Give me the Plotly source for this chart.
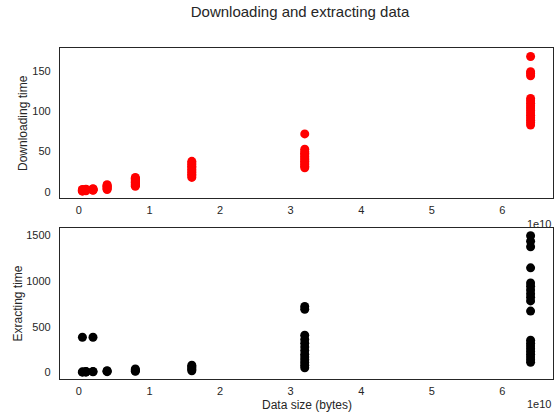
import plotly.graph_objects as go

# ---- data ----
sizes = [5e8, 1e9, 2e9, 4e9, 8e9, 1.6e10, 3.2e10, 6.4e10]

download_times = [
    [1, 1.5, 2, 2.5, 3],
    [1.5, 2, 2.5, 3, 3.5],
    [2, 2.5, 3, 3.5, 4],
    [3, 4, 5, 6, 7, 8, 9],
    [7, 8, 9, 10, 11, 12, 13, 14, 15, 16, 17, 18],
    [18, 20, 22, 24, 26, 28, 30, 32, 34, 36, 38],
    [30, 32, 34, 36, 38, 40, 42, 44, 46, 48, 50, 53, 72],
    [83, 86, 89, 92, 95, 98, 101, 104, 107, 110, 113, 116, 144, 147, 149, 168],
]

extract_times = [
    [5, 8, 385],
    [5, 10, 12],
    [8, 12, 385],
    [10, 15, 20],
    [15, 20, 30, 40],
    [20, 35, 50, 65, 80],
    [52, 80, 110, 140, 170, 200, 240, 280, 320, 360, 408, 690, 720],
    [112, 140, 170, 200, 230, 260, 290, 320, 353, 670, 781, 820, 860, 900, 940, 976, 1141, 1370, 1430, 1490],
]

xtick_vals = [0, 1e10, 2e10, 3e10, 4e10, 5e10, 6e10]
xtick_text = ["0", "1", "2", "3", "4", "5", "6"]
ytick_top = [0, 50, 100, 150]
ytick_bot = [0, 500, 1000, 1500]

title_text = "Downloading and extracting data"
ylabel_top = "Downloading time"
ylabel_bot = "Exracting time"
xlabel = "Data size (bytes)"

# ---- flatten ----
def flatten(vals):
    xs, ys = [], []
    for s, v in zip(sizes, vals):
        xs += [s] * len(v)
        ys += v
    return xs, ys

dx, dy = flatten(download_times)
ex, ey = flatten(extract_times)

FONT = "Liberation Sans, Arial, sans-serif"
INK = "#262626"

fig = go.Figure()
fig.add_trace(go.Scatter(x=dx, y=dy, mode="markers", xaxis="x", yaxis="y",
                         marker=dict(color="#ff0000", size=9, line=dict(width=0)),
                         showlegend=False))
fig.add_trace(go.Scatter(x=ex, y=ey, mode="markers", xaxis="x2", yaxis="y2",
                         marker=dict(color="#000000", size=9, line=dict(width=0)),
                         showlegend=False))

xr = [-0.2675e10, 6.7175e10]
axis_common = dict(showline=True, mirror=True, linecolor=INK, linewidth=1.25,
                   showgrid=False, zeroline=False, ticks="",
                   tickfont=dict(family=FONT, size=11, color=INK))

fig.update_layout(
    width=558, height=416,
    margin=dict(l=60, r=5, t=48, b=37),
    paper_bgcolor="white", plot_bgcolor="white",
    font=dict(family=FONT, color=INK),
    title=dict(text=title_text, x=300 / 558, xanchor="center",
               y=1 - 12 / 416, yanchor="middle",
               font=dict(family=FONT, size=15, color=INK)),
    xaxis=dict(domain=[0, 1], anchor="y", range=xr,
               tickvals=xtick_vals, ticktext=xtick_text,
               ticklabelstandoff=2, **axis_common),
    yaxis=dict(domain=[0.5468, 1], anchor="x", range=[-7.5, 178.5],
               tickvals=ytick_top, ticklabelstandoff=6, **axis_common),
    xaxis2=dict(domain=[0, 1], anchor="y2", range=xr,
                tickvals=xtick_vals, ticktext=xtick_text,
                ticklabelstandoff=2, **axis_common),
    yaxis2=dict(domain=[0, 0.4562], anchor="x2", range=[-69.8, 1574.8],
                tickvals=ytick_bot, ticklabelstandoff=6, **axis_common),
)

annos = [
    dict(text=ylabel_top, x=(23 - 60) / 493, y=0.5468 + (1 - 0.5468) / 2,
         textangle=-90, font=dict(size=12)),
    dict(text=ylabel_bot, x=(18 - 60) / 493, y=0.4562 / 2,
         textangle=-90, font=dict(size=12)),
    dict(text=xlabel, x=0.501, y=(379 - 405) / 331, font=dict(size=12)),
    dict(text="1e10", x=1, y=(379 - 224) / 331, xanchor="right", font=dict(size=11)),
    dict(text="1e10", x=1, y=(379 - 404) / 331, xanchor="right", font=dict(size=11)),
]
for a in annos:
    a.setdefault("xanchor", "center")
    a.update(xref="paper", yref="paper", yanchor="middle", showarrow=False)
    a["font"].update(family=FONT, color=INK)
    fig.add_annotation(**a)

fig.write_html("out.html", config={"displayModeBar": False},
               post_script="document.body.style.margin='0';document.body.style.padding='0';")
